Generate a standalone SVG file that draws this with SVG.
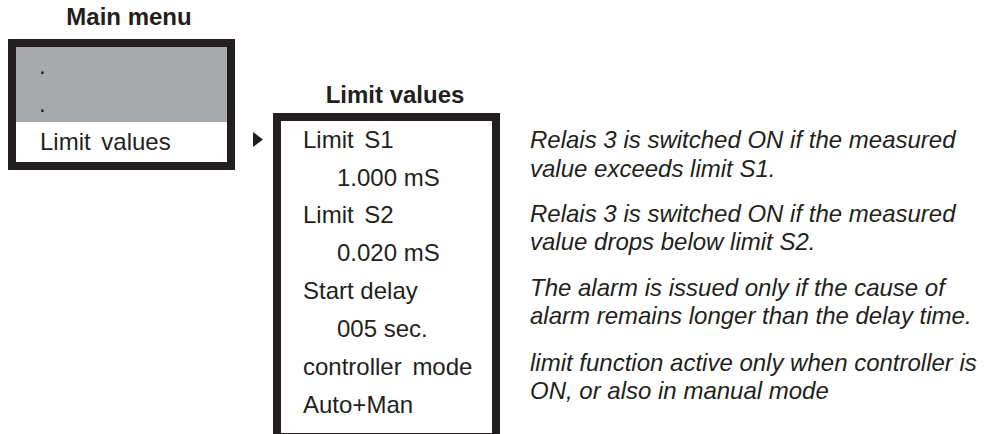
<svg xmlns="http://www.w3.org/2000/svg" width="989" height="434" viewBox="0 0 989 434">
<style>
text{font-family:"Liberation Sans",Arial,sans-serif;font-size:24px;fill:#231f20}
.t{font-weight:bold;text-anchor:middle}
.i{font-style:italic}
.w{word-spacing:4px}
.box{fill:#fff;stroke:#231f20;stroke-width:8}
</style>
<rect width="989" height="434" fill="#fff"/>
<g id="main-menu">
<text class="t" x="129" y="25">Main menu</text>
<rect class="box" x="12" y="43" width="219" height="123"/>
<rect x="16" y="47" width="211" height="75" fill="#a7a9ac"/>
<text x="39" y="74">.</text>
<text x="39" y="112">.</text>
<text class="w" x="40" y="150">Limit values</text>
</g>
<g id="connectors">
<polygon points="253,132 263,139.5 253,147" fill="#231f20"/>
</g>
<g id="limit-values">
<text class="t" x="395" y="103">Limit values</text>
<rect class="box" x="277" y="117" width="219" height="320"/>
<text class="w" x="303" y="148">Limit S1</text>
<text x="337" y="186">1.000 mS</text>
<text class="w" x="303" y="223">Limit S2</text>
<text x="337" y="261">0.020 mS</text>
<text x="303" y="299">Start delay</text>
<text x="337" y="337">005 sec.</text>
<text class="w" x="303" y="375">controller mode</text>
<text x="303" y="413">Auto+Man</text>
</g>
<g id="notes">
<text class="i" x="530" y="148">Relais 3 is switched ON if the measured</text>
<text class="i" x="530" y="177">value exceeds limit S1.</text>
<text class="i" x="530" y="222">Relais 3 is switched ON if the measured</text>
<text class="i" x="530" y="250">value drops below limit S2.</text>
<text class="i" x="530" y="296">The alarm is issued only if the cause of</text>
<text class="i" x="530" y="324">alarm remains longer than the delay time.</text>
<text class="i" x="530" y="371">limit function active only when controller is</text>
<text class="i" x="530" y="399">ON, or also in manual mode</text>
</g>
</svg>
